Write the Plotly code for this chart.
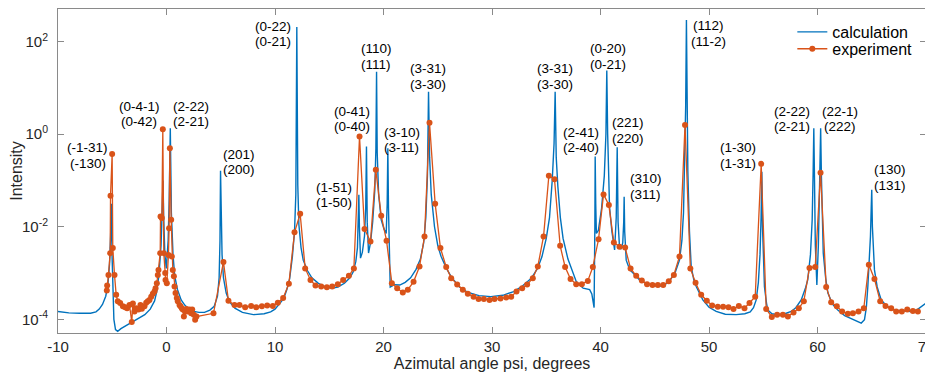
import plotly.graph_objects as go

# ---- calculation (blue line) ----
calc_x = [-10.0, -9.0, -8.0, -7.0, -6.5, -6.2, -5.9, -5.6, -5.4, -5.25, -5.15, -5.08, -5.02, -4.95, -4.85,
          -4.7, -4.5, -4.2, -3.5, -3.0, -2.5, -2.0, -1.5, -1.1, -0.9, -0.7, -0.5, -0.38, -0.32, -0.26,
          -0.15, -0.02, 0.15, 0.25, 0.31, 0.35, 0.39, 0.45, 0.6, 0.75, 1.0, 1.35, 1.7, 2.0, 2.5,
          3.0, 3.5, 4.0, 4.4, 4.7, 4.85, 4.93, 4.98, 5.03, 5.12, 5.25, 5.5, 5.8, 6.3, 7.0,
          8.0, 9.0, 9.6, 10.0, 10.5, 10.8, 11.1, 11.35, 11.6, 11.8, 11.92, 12.01, 12.1, 12.2, 12.4,
          12.6, 13.0, 13.4, 14.0, 14.6, 15.2, 15.8, 16.4, 16.9, 17.2, 17.45, 17.6, 17.68, 17.73, 17.78,
          17.88, 18.05, 18.25, 18.36, 18.43, 18.5, 18.62, 18.8, 19.0, 19.2, 19.3, 19.36, 19.42, 19.55, 19.79,
          20.05, 20.25, 20.34, 20.4, 20.46, 20.55, 20.62, 21.0, 21.5, 22.0, 22.5, 23.0, 23.4, 23.7, 23.9,
          24.05, 24.15, 24.25, 24.4, 24.7, 25.0, 25.3, 25.8, 26.3, 27.0, 27.8, 28.8, 29.9, 31.0, 32.0,
          32.8, 33.6, 34.2, 34.6, 35.0, 35.3, 35.55, 35.72, 35.82, 35.92, 36.07, 36.3, 36.55, 37.0, 37.3,
          37.76, 38.4, 39.0, 39.2, 39.33, 39.41, 39.48, 39.51, 39.56, 39.62, 39.8, 40.1, 40.35, 40.5, 40.58,
          40.66, 40.83, 41.05, 41.3, 41.45, 41.54, 41.62, 41.75, 41.9, 42.05, 42.14, 42.18, 42.23, 42.37, 42.7,
          43.0, 43.6, 44.2, 44.8, 45.4, 46.0, 46.4, 46.9, 47.28, 47.5, 47.65, 47.77, 47.85, 47.92, 47.98,
          48.05, 48.1, 48.2, 48.36, 48.6, 48.82, 49.43, 50.0, 50.66, 51.5, 52.5, 53.3, 53.8, 54.1, 54.35,
          54.55, 54.7, 54.8, 54.87, 54.93, 55.02, 55.11, 55.3, 55.42, 55.8, 56.34, 57.0, 57.57, 58.0, 58.5,
          58.9, 59.1, 59.35, 59.51, 59.6, 59.66, 59.72, 59.8, 59.94, 60.08, 60.2, 60.29, 60.36, 60.53, 60.75,
          60.96, 61.4, 61.87, 62.5, 63.1, 63.6, 64.03, 64.33, 64.5, 64.64, 64.8, 64.88, 64.95, 65.0, 65.06,
          65.15, 65.25, 65.5, 65.87, 66.4, 67.1, 68.0, 68.64, 69.2, 69.56, 70.0]
calc_y = [1.48e-4, 1.38e-4, 1.35e-4, 1.35e-4, 1.45e-4, 1.66e-4, 2.09e-4, 3.16e-4, 5.62e-4, 1.58e-3, 6.3e-3, 3.16e-2, 2.5e-3, 3.98e-4, 1.0e-4,
          6.0e-5, 5.5e-5, 6.3e-5, 7.9e-5, 9.1e-5, 1.05e-4, 1.26e-4, 1.66e-4, 2.5e-4, 3.98e-4, 8.9e-4, 3.98e-3, 2.5e-2, 0.1, 1.58e-2,
          2.5e-3, 1.26e-3, 5.0e-3, 3.98e-2, 0.5, 1.35, 0.25, 2.0e-2, 2.5e-3, 8.9e-4, 4.47e-4, 2.63e-4, 2.0e-4, 1.74e-4, 1.48e-4,
          1.41e-4, 1.41e-4, 1.58e-4, 1.91e-4, 3.16e-4, 7.9e-4, 5.0e-3, 0.162, 1.0e-2, 2.5e-3, 7.9e-4, 3.7e-4, 2.4e-4, 1.74e-4, 1.41e-4,
          1.26e-4, 1.32e-4, 1.45e-4, 1.66e-4, 2.3e-4, 2.8e-4, 4.47e-4, 7.6e-4, 2.24e-3, 7.9e-3, 5.0e-2, 209.0, 7.9e-2, 1.12e-2, 3.55e-3,
          1.9e-3, 1.12e-3, 7.9e-4, 6.0e-4, 5.1e-4, 4.7e-4, 5.0e-4, 6.0e-4, 7.9e-4, 1.05e-3, 1.78e-3, 3.55e-3, 1.26e-2, 4.9e-2, 1.0e-2,
          2.1e-3, 2.8e-3, 6.3e-3, 2.5e-2, 0.54, 1.26e-2, 2.7e-3, 4.47e-3, 1.26e-2, 6.3e-2, 0.5, 22.4, 0.4, 5.0e-2, 1.41e-2,
          8.9e-3, 7.2e-3, 3.16e-2, 0.5, 2.5e-2, 1.26e-3, 5.0e-4, 5.6e-4, 5.5e-4, 6.3e-4, 7.9e-4, 1.2e-3, 2.0e-3, 4.47e-3, 1.58e-2,
          0.126, 8.3, 0.316, 5.0e-2, 1.0e-2, 3.98e-3, 2.3e-3, 1.26e-3, 7.9e-4, 5.0e-4, 3.8e-4, 3.24e-4, 3.09e-4, 3.3e-4, 3.98e-4,
          5.25e-4, 7.6e-4, 1.26e-3, 2.24e-3, 5.6e-3, 1.58e-2, 0.1, 0.63, 8.3, 0.316, 7.4e-2, 1.58e-2, 5.6e-3, 2.0e-3, 1.26e-3,
          6.6e-4, 4.7e-4, 4.37e-4, 3.55e-4, 2.5e-4, 1.78e-4, 1.0e-2, 0.33, 3.16e-2, 7.2e-3, 8.3e-3, 2.5e-2, 0.126, 1.0, 24.0,
          1.0, 2.75e-2, 7.9e-3, 3.16e-3, 1.58e-2, 0.52, 1.26e-2, 3.7e-3, 3.3e-3, 4.47e-3, 1.26e-2, 4.47e-2, 7.9e-3, 1.9e-3, 1.17e-3,
          1.0e-3, 7.1e-4, 6.0e-4, 5.4e-4, 5.1e-4, 5.75e-4, 6.9e-4, 1.05e-3, 1.9e-3, 5.0e-3, 2.0e-2, 0.28, 4.0, 295.0, 2.5,
          0.158, 5.4e-2, 7.9e-3, 1.38e-3, 7.1e-4, 5.1e-4, 2.63e-4, 1.82e-4, 1.48e-4, 1.29e-4, 1.26e-4, 1.32e-4, 1.45e-4, 1.78e-4, 2.63e-4,
          6.3e-4, 2.5e-3, 1.58e-2, 0.155, 1.0e-2, 1.26e-3, 5.1e-4, 2.24e-4, 1.58e-4, 1.32e-4, 1.26e-4, 1.32e-4, 1.48e-4, 1.78e-4, 2.63e-4,
          4.8e-4, 7.1e-4, 2.5e-3, 1.41e-2, 0.158, 1.35, 0.126, 3.98e-3, 5.5e-4, 3.98e-3, 0.1, 1.35, 0.126, 2.7e-3, 7.9e-4,
          3.7e-4, 2.09e-4, 1.58e-4, 1.2e-4, 1.05e-4, 9.3e-5, 8.3e-5, 9.8e-5, 1.78e-4, 5.1e-4, 2.5e-3, 6.2e-3, 2.5e-2, 6.3e-2, 1.0e-2,
          2.5e-3, 1.17e-3, 5.0e-4, 2.63e-4, 1.91e-4, 1.58e-4, 1.51e-4, 1.48e-4, 1.62e-4, 1.91e-4, 2.24e-4]

# ---- experiment (orange line with markers) ----
exp_x = [-5.50, -5.47, -5.35, -5.19, -5.16, -5.01, -4.95, -4.79, -4.64, -4.49, -4.27, -4.02, -3.81, -3.63, -3.41,
         -3.20, -3.10, -2.95, -2.80, -2.58, -2.40, -2.27, -2.03, -1.87, -1.72, -1.57, -1.41, -1.26, -1.11, -1.01,
         -0.89, -0.80, -0.74, -0.58, -0.55, -0.43, -0.34, -0.25, -0.12, -0.09, 0.03, 0.18, 0.24, 0.31, 0.43,
         0.49, 0.58, 0.68, 0.74, 0.83, 0.95, 1.04, 1.20, 1.29, 1.41, 1.50, 1.60, 1.72, 1.84, 1.97,
         2.12, 2.27, 2.37, 2.52, 2.64, 2.76, 4.33, 5.25, 5.71, 6.27, 6.73, 7.25, 7.80, 8.27, 8.79,
         9.28, 9.80, 10.26, 10.75, 11.28, 11.80, 12.32, 12.78, 13.27, 13.73, 14.26, 14.78, 15.27, 15.79, 16.28,
         16.81, 17.27, 17.79, 18.25, 18.80, 19.29, 19.79, 20.28, 20.77, 21.26, 21.78, 22.24, 22.77, 23.32, 23.78,
         24.24, 24.76, 25.25, 25.78, 26.24, 26.79, 27.31, 27.77, 28.30, 28.76, 29.25, 29.77, 30.23, 30.78, 31.31,
         31.77, 32.26, 32.78, 33.24, 33.76, 34.22, 34.75, 35.24, 35.76, 36.28, 36.74, 37.24, 37.76, 38.28, 38.83,
         39.29, 39.82, 40.28, 40.77, 41.23, 41.75, 42.27, 42.77, 43.29, 43.81, 44.29, 44.79, 45.28, 45.78, 46.29,
         46.76, 47.28, 47.79, 48.28, 48.76, 49.28, 49.80, 50.29, 50.81, 51.30, 51.80, 52.26, 52.75, 53.27, 53.73,
         54.26, 54.81, 55.27, 55.79, 56.28, 56.81, 57.27, 57.79, 58.28, 58.74, 59.26, 59.79, 60.28, 60.80, 61.26,
         61.78, 62.27, 62.80, 63.26, 63.78, 64.27, 64.73, 65.25, 65.78, 66.27, 66.79, 67.25, 67.77, 68.27, 68.79,
         69.25]
exp_y = [4.17e-4, 5.37e-4, 9.1e-4, 2.69e-3, 4.68e-2, 0.372, 3.47e-3, 9.1e-4, 3.39e-4, 2.45e-4, 2.24e-4, 1.91e-4, 1.82e-4, 1.74e-4, 2.04e-4,
         8.7e-5, 2.19e-4, 1.48e-4, 1.74e-4, 1.62e-4, 2.04e-4, 1.70e-4, 1.91e-4, 2.29e-4, 2.45e-4, 2.63e-4, 3.09e-4, 3.55e-4, 3.98e-4, 4.68e-4,
         6.03e-4, 9.1e-4, 1.17e-3, 2.69e-3, 1.66e-2, 1.55e-2, 1.29, 2.69e-3, 1.0e-3, 7.08e-4, 6.03e-4, 2.45e-3, 9.3e-3, 0.501, 1.41e-2,
         2.29e-3, 1.17e-3, 8.5e-4, 5.13e-4, 3.72e-4, 2.88e-4, 2.45e-4, 2.04e-4, 1.91e-4, 1.74e-4, 1.62e-4, 1.15e-4, 1.48e-4, 1.66e-4, 1.48e-4,
         1.62e-4, 1.35e-4, 1.62e-4, 1.26e-4, 9.8e-5, 1.15e-4, 1.35e-4, 1.74e-3, 2.51e-4, 2.04e-4, 2.04e-4, 1.82e-4, 1.95e-4, 1.82e-4, 1.91e-4,
         2.0e-4, 1.95e-4, 2.29e-4, 2.88e-4, 5.89e-4, 7.59e-3, 1.91e-2, 1.26e-3, 7.08e-4, 5.37e-4, 5.13e-4, 4.9e-4, 5.13e-4, 5.75e-4, 7.08e-4,
         8.71e-4, 1.26e-3, 0.891, 8.91e-3, 4.79e-3, 0.170, 1.74e-2, 5.01e-3, 6.03e-4, 4.68e-4, 3.80e-4, 4.37e-4, 6.46e-4, 1.38e-3, 6.17e-3,
         1.78, 3.16e-2, 3.47e-3, 1.35e-3, 7.76e-4, 5.62e-4, 4.37e-4, 3.55e-4, 3.09e-4, 2.75e-4, 2.75e-4, 2.63e-4, 2.75e-4, 2.82e-4, 2.95e-4,
         3.09e-4, 3.98e-4, 4.68e-4, 5.62e-4, 7.76e-4, 1.38e-3, 6.17e-3, 0.126, 0.107, 3.89e-3, 1.35e-3, 7.41e-4, 5.75e-4, 5.75e-4, 6.76e-4,
         1.35e-3, 5.37e-3, 5.01e-2, 2.95e-2, 4.57e-3, 3.72e-3, 3.55e-3, 1.26e-3, 8.71e-4, 6.92e-4, 5.75e-4, 5.50e-4, 5.50e-4, 5.50e-4, 6.61e-4,
         9.12e-4, 2.29e-3, 1.58, 1.26e-3, 6.17e-4, 3.39e-4, 2.51e-4, 2.0e-4, 1.86e-4, 1.86e-4, 1.82e-4, 1.66e-4, 1.95e-4, 1.74e-4, 2.24e-4,
         3.09e-4, 0.229, 1.66e-4, 1.12e-4, 1.26e-4, 1.26e-4, 1.15e-4, 1.41e-4, 1.74e-4, 2.45e-4, 1.29e-3, 1.35e-3, 0.148, 5.01e-4, 2.34e-4,
         1.91e-4, 1.48e-4, 1.32e-4, 1.35e-4, 1.48e-4, 1.74e-4, 1.51e-3, 7.41e-4, 2.45e-4, 1.95e-4, 1.74e-4, 1.48e-4, 1.48e-4, 1.62e-4, 1.51e-4,
         1.48e-4]

# ---- peak labels: (upper line, lower line, x position, log10 of label centre) ----
label_top = ["(-1-31)", "(0-4-1)", "(2-22)", "(201)", "(0-22)", "(0-41)", "(1-51)", "(110)", "(3-10)", "(3-31)",
             "(3-31)", "(2-41)", "(0-20)", "(221)", "(310)", "(112)", "(1-30)", "(2-22)", "(22-1)", "(130)"]
label_bot = ["(-130)", "(0-42)", "(2-21)", "(200)", "(0-21)", "(0-40)", "(1-50)", "(111)", "(3-11)", "(3-30)",
             "(3-30)", "(2-40)", "(0-21)", "(220)", "(311)", "(11-2)", "(1-31)", "(2-21)", "(222)", "(131)"]
label_x = [-7.28, -2.49, 2.30, 6.64, 9.86, 17.12, 15.48, 19.33, 21.66, 24.08,
           35.82, 38.22, 40.65, 42.55, 44.15, 49.95, 52.69, 57.67, 62.09, 66.70]
label_ylog = [-0.458, 0.438, 0.438, -0.598, 2.166, 0.330, -1.311, 1.68, -0.123, 1.248,
              1.248, -0.123, 1.68, 0.082, -1.127, 2.177, -0.458, 0.330, 0.330, -0.933]

# ---- axis ticks ----
x_ticks = [-10, 0, 10, 20, 30, 40, 50, 60, 70]
x_ticklabels = ["-10", "0", "10", "20", "30", "40", "50", "60", "70"]
y_ticks = [1e-4, 1e-2, 1, 100]
y_ticklabels = ["10<sup>-4</sup>", "10<sup>-2</sup>", "10<sup>0</sup>", "10<sup>2</sup>"]

BLUE = "#0072BD"
ORANGE = "#D95319"
FONT = "Liberation Sans, Arial, sans-serif"
TXT = "#262626"
AX = "#8a8a8a"

fig = go.Figure()
fig.add_trace(go.Scatter(x=calc_x, y=calc_y, mode="lines", name="calculation",
                         line=dict(color=BLUE, width=1.4), legend="legend"))
fig.add_trace(go.Scatter(x=exp_x, y=exp_y, mode="lines+markers", name="experiment",
                         line=dict(color=ORANGE, width=1.3),
                         marker=dict(color=ORANGE, size=6), legend="legend2"))

half = 0.165  # half line spacing in decades
annotations = []
for t, b, x, yl in zip(label_top, label_bot, label_x, label_ylog):
    for txt, yy in ((t, yl + half), (b, yl - half)):
        annotations.append(dict(x=x, y=yy, text=txt, showarrow=False, xref="x", yref="y",
                                borderpad=0,
                                font=dict(family=FONT, size=13.5, color="#000000")))

leg_common = dict(xanchor="left", yanchor="middle", bgcolor="rgba(0,0,0,0)",
                  font=dict(size=16, family=FONT, color="#000000"), itemwidth=30,
                  borderwidth=0)
# The page places the figure 8 px in from the top-left corner, so the figure is
# sized 925x366 to fill the 933x374 window with the plot area where the reference has it.
fig.update_layout(
    width=925, height=366,
    margin=dict(l=50, r=7, t=1, b=41, autoexpand=False),
    paper_bgcolor="white", plot_bgcolor="white",
    font=dict(family=FONT, color=TXT),
    annotations=annotations,
    showlegend=True,
    legend=dict(x=0.846, y=0.929, **leg_common),
    legend2=dict(x=0.846, y=0.877, **leg_common),
)
fig.update_xaxes(range=[-10, 70], tickvals=x_ticks, ticktext=x_ticklabels, showgrid=False,
                 zeroline=False, automargin=False, ticklabeloverflow="allow",
                 showline=True, linecolor=AX, linewidth=1, mirror="ticks",
                 ticks="inside", ticklen=6, tickcolor=AX,
                 tickfont=dict(size=15, family=FONT, color=TXT), ticklabelstandoff=0,
                 title=dict(text="Azimutal angle psi, degrees", font=dict(size=16, family=FONT, color=TXT),
                            standoff=0))
fig.update_yaxes(type="log", range=[-4.296, 2.707], tickvals=y_ticks, ticktext=y_ticklabels,
                 showgrid=False, zeroline=False, automargin=False,
                 showline=True, linecolor=AX, linewidth=1,
                 mirror="ticks", ticks="inside", ticklen=6, tickcolor=AX,
                 tickfont=dict(size=15, family=FONT, color=TXT), ticklabelstandoff=6,
                 title=dict(text="Intensity", font=dict(size=16, family=FONT, color=TXT), standoff=4))

fig.write_html("out.html")
